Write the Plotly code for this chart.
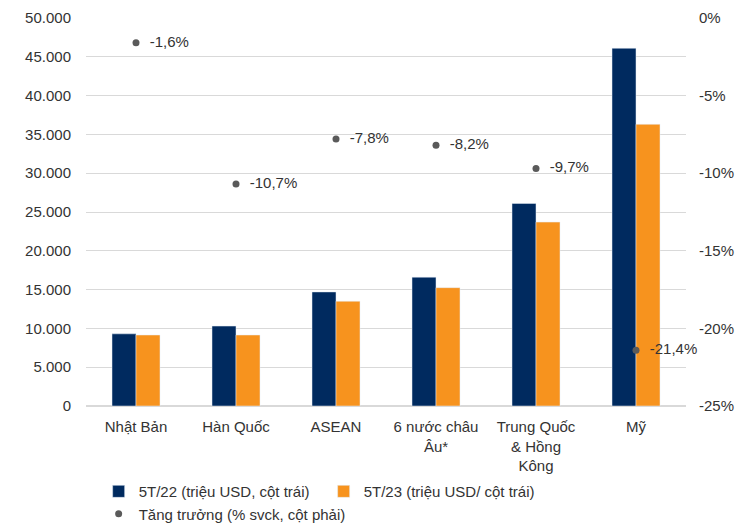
import plotly.graph_objects as go
from plotly.subplots import make_subplots

# data
categories = ["Nhật Bản", "Hàn Quốc", "ASEAN", "6 nước châu<br>Âu*", "Trung Quốc<br>& Hồng<br>Kông", "Mỹ"]
val_5t22 = [9300, 10300, 14700, 16600, 26100, 46100]
val_5t23 = [9150, 9150, 13500, 15250, 23700, 36300]
growth = [-1.6, -10.7, -7.8, -8.2, -9.7, -21.4]
growth_labels = ["  -1,6%", "  -10,7%", "  -7,8%", "  -8,2%", "  -9,7%", "  -21,4%"]

left_ticks = list(range(0, 50001, 5000))
right_ticks = [0, -5, -10, -15, -20, -25]
right_text = ["0%", "-5%", "-10%", "-15%", "-20%", "-25%"]

NAVY = "#002A5F"
ORANGE = "#F7931E"
GREY = "#5A5A5A"

fig = make_subplots(specs=[[{"secondary_y": True}]])

fig.add_trace(go.Bar(x=categories, y=val_5t22, name="5T/22 (triệu USD, cột trái)",
                     marker_color=NAVY), secondary_y=False)
fig.add_trace(go.Bar(x=categories, y=val_5t23, name="5T/23 (triệu USD/ cột trái)",
                     marker_color=ORANGE), secondary_y=False)
fig.add_trace(go.Scatter(x=categories, y=growth, name="Tăng trưởng (% svck, cột phải)",
                         mode="markers+text", text=growth_labels, textposition="middle right",
                         textfont=dict(size=15, color="#333333"), cliponaxis=False,
                         marker=dict(color=GREY, size=7)), secondary_y=True)

# page body has an 8px margin, so shift plot area up/left to match
fig.update_layout(
    width=743, height=529,
    margin=dict(l=78, r=65, t=10, b=131, autoexpand=False),
    paper_bgcolor="white", plot_bgcolor="white",
    font=dict(family="Liberation Sans, Arial, sans-serif", size=15, color="#333333"),
    separators=",.",
    barmode="group", bargap=0.52, bargroupgap=0,
    legend=dict(orientation="h", xref="container", yref="container",
                x=0.122, y=0.117, xanchor="left", yanchor="top",
                entrywidth=180, font=dict(size=15), tracegroupgap=0,
                itemwidth=30),
    showlegend=True,
)

fig.update_xaxes(domain=[0, 1], showgrid=False, showline=False, ticks="", tickangle=0,
                 ticklabelstandoff=10)
fig.update_yaxes(range=[0, 50000], tickvals=left_ticks, tickformat=",d",
                 showgrid=True, gridcolor="#D9D9D9", gridwidth=1,
                 zeroline=True, zerolinecolor="#D9D9D9", ticks="",
                 ticklabelstandoff=14, automargin=False,
                 secondary_y=False)
fig.update_yaxes(range=[-25, 0], tickvals=right_ticks, ticktext=right_text,
                 showgrid=False, zeroline=False, ticks="",
                 ticklabelstandoff=12, automargin=False,
                 secondary_y=True)

fig.write_html("out.html")
